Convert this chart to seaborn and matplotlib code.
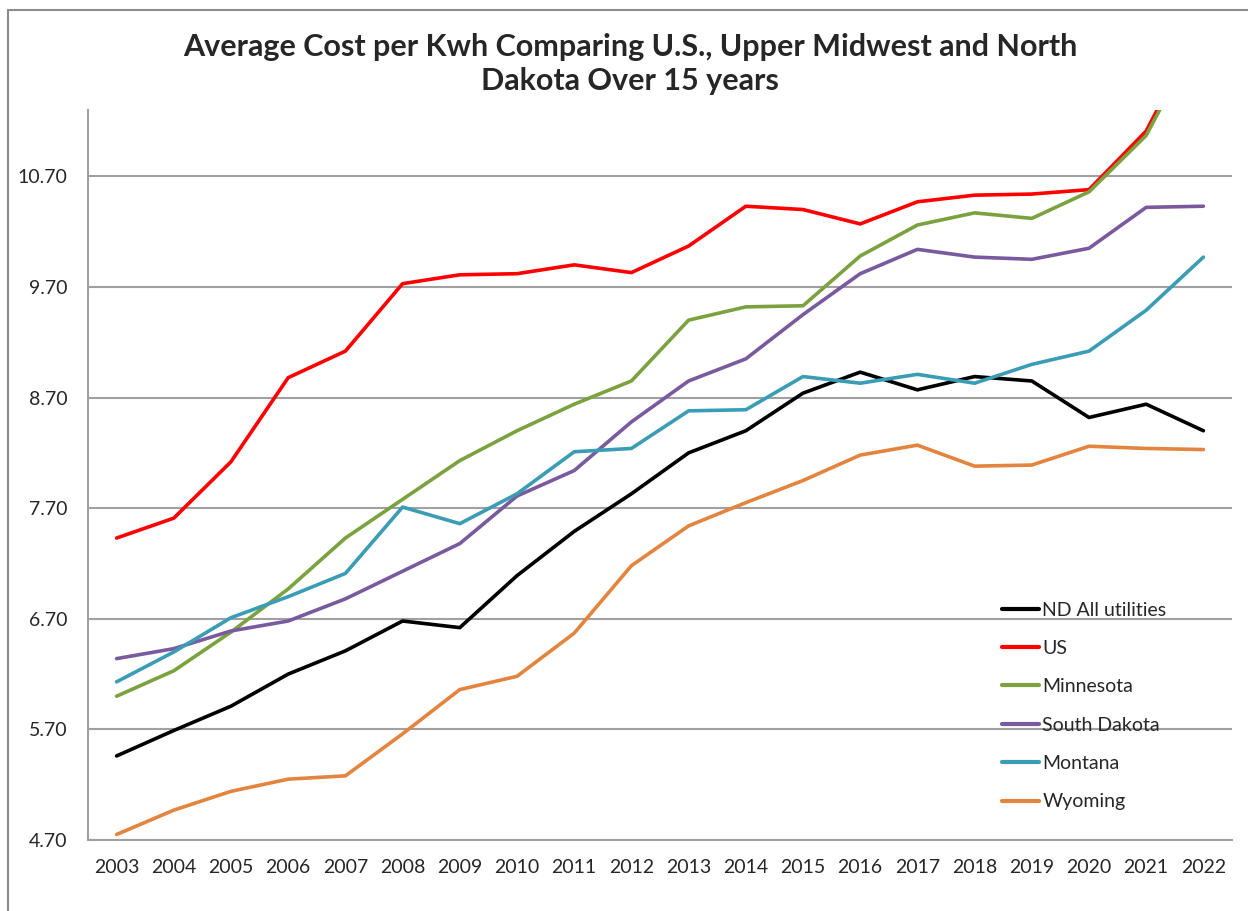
import numpy as np
import pandas as pd
import matplotlib
matplotlib.use("Agg")
import matplotlib.pyplot as plt
import seaborn as sns

years = [str(y) for y in range(2003, 2023)]

nd_all = [5.46, 5.69, 5.91, 6.20, 6.41, 6.68, 6.62, 7.09, 7.49, 7.83,
          8.20, 8.40, 8.74, 8.93, 8.77, 8.89, 8.85, 8.52, 8.64, 8.40]
us = [7.43, 7.61, 8.12, 8.88, 9.12, 9.73, 9.81, 9.82, 9.90, 9.83,
      10.07, 10.43, 10.40, 10.27, 10.47, 10.53, 10.54, 10.58, 11.11, 12.10]
minnesota = [6.00, 6.23, 6.58, 6.97, 7.43, 7.78, 8.13, 8.40, 8.64, 8.85,
             9.40, 9.52, 9.53, 9.98, 10.26, 10.37, 10.32, 10.56, 11.07, 12.05]
south_dakota = [6.34, 6.43, 6.59, 6.68, 6.88, 7.13, 7.38, 7.81, 8.04, 8.48,
                8.85, 9.05, 9.45, 9.82, 10.04, 9.97, 9.95, 10.05, 10.42, 10.43]
montana = [6.13, 6.40, 6.71, 6.90, 7.11, 7.71, 7.56, 7.83, 8.21, 8.24,
           8.58, 8.59, 8.89, 8.83, 8.91, 8.83, 9.00, 9.12, 9.49, 9.97]
wyoming = [4.75, 4.97, 5.14, 5.25, 5.28, 5.66, 6.06, 6.18, 6.57, 7.18,
           7.54, 7.75, 7.95, 8.18, 8.27, 8.08, 8.09, 8.26, 8.24, 8.23]

series_names = ["ND All utilities", "US", "Minnesota", "South Dakota", "Montana", "Wyoming"]
series_values = [nd_all, us, minnesota, south_dakota, montana, wyoming]
colors = ["#000000", "#FF0000", "#7BA23F", "#7A5A9E", "#3A9DB5", "#E3843F"]

frames = []
for name, vals in zip(series_names, series_values):
    frames.append(pd.DataFrame({"year": years, "cost": vals, "series": name}))
df = pd.concat(frames, ignore_index=True)

sns.set_style("white")
plt.rcParams["font.family"] = ["Lato", "DejaVu Sans"]

fig = plt.figure(figsize=(12.48, 9.11), dpi=100)
ax = fig.add_axes([88 / 1248, 1 - 840 / 911, (1232 - 88) / 1248, (840 - 110) / 911])

sns.lineplot(data=df, x="year", y="cost", hue="series", hue_order=series_names,
             palette=dict(zip(series_names, colors)), linewidth=2.6, ax=ax,
             sort=False)

ticks = [4.70, 5.70, 6.70, 7.70, 8.70, 9.70, 10.70]
ax.set_ylim(4.70, 11.30)
ax.set_xlim(-0.5, 19.5)
ax.set_yticks(ticks)
ax.set_yticklabels([f"{t:.2f}" for t in ticks])
ax.yaxis.grid(True, color="#A0A0A0", linewidth=1.5)
ax.set_axisbelow(True)
ax.tick_params(axis="both", labelsize=14, colors="#262626", length=0)
ax.tick_params(axis="x", pad=14)
ax.tick_params(axis="y", pad=15)
ax.set_xlabel("")
ax.set_ylabel("")
for side in ["top", "right"]:
    ax.spines[side].set_visible(False)
for side in ["left", "bottom"]:
    ax.spines[side].set_color("#A0A0A0")
    ax.spines[side].set_linewidth(1.5)

leg = ax.legend(loc="upper left", bbox_to_anchor=(984 / 1248, 1 - 584 / 911),
                bbox_transform=fig.transFigure, frameon=False, fontsize=14,
                handlelength=1.95, handletextpad=0.15, labelspacing=1.1)
for line in leg.get_lines():
    line.set_linewidth(3)

fig.text(0.505, 1 - 47 / 911, "Average Cost per Kwh Comparing U.S., Upper Midwest and North",
         ha="center", va="center", fontsize=22, fontweight="bold")
fig.text(0.505, 1 - 81 / 911, "Dakota Over 15 years",
         ha="center", va="center", fontsize=22, fontweight="bold")

# chart area border (only left and top visible in the crop)
fig.add_artist(plt.Line2D([8 / 1248, 8 / 1248], [0, 1 - 10 / 911], transform=fig.transFigure,
                          color="#8C8C8C", linewidth=1.5))
fig.add_artist(plt.Line2D([8 / 1248, 1], [1 - 10 / 911, 1 - 10 / 911], transform=fig.transFigure,
                          color="#8C8C8C", linewidth=1.5))

fig.savefig("out.png", dpi=100)
